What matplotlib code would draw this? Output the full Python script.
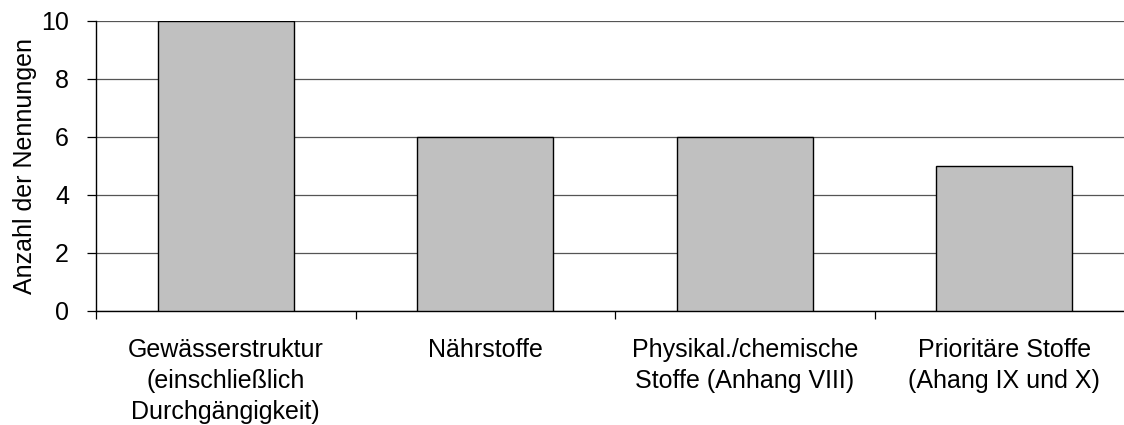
import matplotlib
matplotlib.use("Agg")
import matplotlib.pyplot as plt
import numpy as np

categories = [
    "Gewässerstruktur\n(einschließlich\nDurchgängigkeit)",
    "Nährstoffe",
    "Physikal./chemische\nStoffe (Anhang VIII)",
    "Prioritäre Stoffe\n(Ahang IX und X)",
]
counts = [10, 6, 6, 5]
y_ticks = [0, 2, 4, 6, 8, 10]

plt.rcParams["font.family"] = ["Liberation Sans", "DejaVu Sans"]

fig = plt.figure(figsize=(11.24, 4.25), dpi=100)
ax = fig.add_axes([96 / 1124, 1 - 310.7 / 425, 1038 / 1124, 290 / 425])

x = np.arange(len(categories))
ax.bar(x, counts, width=0.525, color="#c0c0c0", edgecolor="black", linewidth=1.0, zorder=3)

ax.set_xlim(-0.5, len(categories) - 0.5)
ax.set_ylim(0, 10)
ax.set_yticks(y_ticks)
ax.yaxis.grid(True, color="#555555", linewidth=0.9, zorder=0)
ax.set_axisbelow(True)

# category labels sit between the boundary ticks
ax.set_xticks(np.arange(len(categories) + 1) - 0.5)
ax.set_xticklabels([])
ax.set_xticks(x, minor=True)
ax.set_xticklabels(categories, minor=True, fontsize=18, linespacing=1.35)
ax.tick_params(axis="x", which="minor", length=0, pad=20)
ax.tick_params(axis="x", which="major", length=6, width=0.9, direction="out")
ax.tick_params(axis="y", length=6.5, width=0.9, labelsize=18, pad=13)

for side in ("top", "right"):
    ax.spines[side].set_visible(False)
for side in ("left", "bottom"):
    ax.spines[side].set_linewidth(1.0)

ax.set_ylabel("Anzahl der Nennungen", fontsize=18, labelpad=3)

fig.savefig("out.png", dpi=100)
